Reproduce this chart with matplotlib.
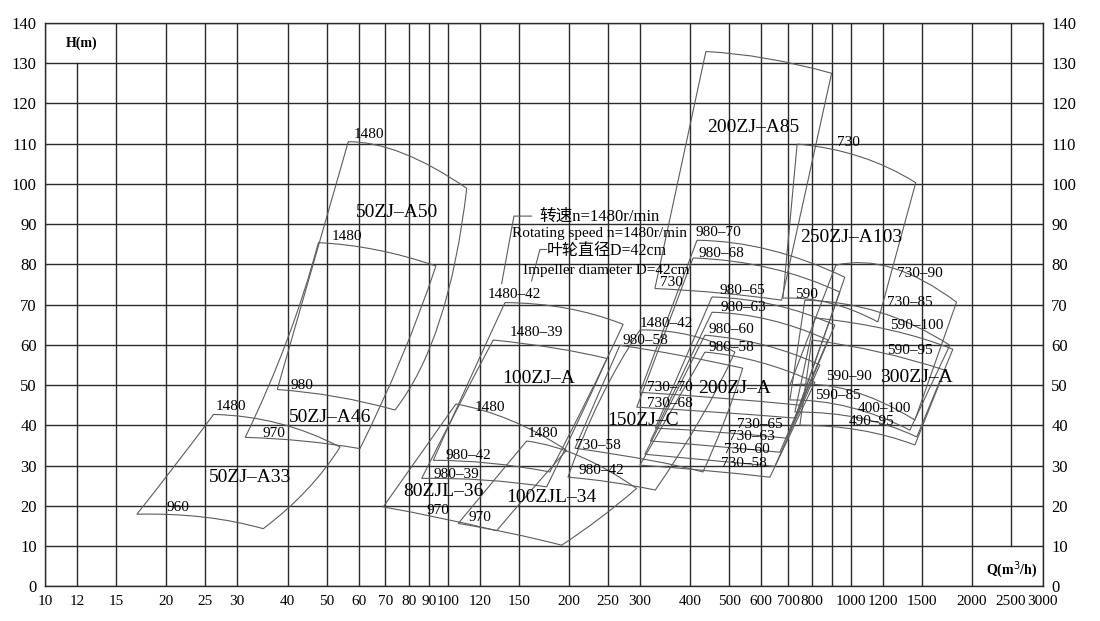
import numpy as np
import matplotlib.pyplot as plt
from matplotlib.path import Path
from matplotlib.patches import PathPatch
from matplotlib.ticker import NullLocator

plt.rcParams['font.family'] = ['Liberation Serif', 'Noto Sans CJK SC']

# axis grid
q_grid = [10, 12, 15, 20, 25, 30, 40, 50, 60, 70, 80, 90, 100, 120, 150, 200, 250, 300,
          400, 500, 600, 700, 800, 900, 1000, 1200, 1500, 2000, 2500, 3000]
q_ticks = [10, 12, 15, 20, 25, 30, 40, 50, 60, 70, 80, 90, 100, 120, 150, 200, 250, 300,
           400, 500, 600, 700, 800, 1000, 1200, 1500, 2000, 2500, 3000]
h_ticks = list(range(0, 150, 10))

# pump working ranges (Q m3/h, H m): edges top -> right -> bottom -> left,
# an edge is [start, middle, end] (curved) or [start, end]
a33 = [[(26.2, 42.7), (38.0, 40.5), (54.0, 34.6)],
       [(54.0, 34.6), (44.6, 23.9), (34.8, 14.3)],
       [(34.8, 14.3), (24.7, 17.2), (16.9, 17.9)],
       [(16.9, 17.9), (21.2, 30.5), (26.2, 42.7)]]
a46 = [[(47.7, 85.4), (66.6, 83.6), (93.4, 79.6)],
       [(93.4, 79.6), (76.9, 57.0), (60.5, 34.2)],
       [(60.5, 34.2), (43.8, 36.1), (31.4, 37.0)],
       [(31.4, 37.0), (39.9, 61.2), (47.7, 85.4)]]
a50 = [[(56.6, 110.5), (77.5, 107.6), (111.4, 98.9)],
       [(111.4, 98.9), (95.6, 66.2), (73.9, 43.8)],
       [(73.9, 43.8), (53.0, 47.1), (37.7, 48.9)],
       [(37.7, 48.9), (56.6, 110.5)]]
zjl36 = [[(104.7, 45.3), (143.6, 41.2), (197.1, 33.8)],
         [(197.1, 33.8), (159.9, 23.5), (132.2, 13.8)],
         [(132.2, 13.8), (95.6, 17.0), (69.1, 19.7)],
         [(69.1, 19.7), (104.7, 45.3)]]
zjl34 = [[(156.9, 36.1), (212.8, 32.3), (294.1, 24.3)],
         [(294.1, 24.3), (238.5, 16.9), (191.7, 10.2)],
         [(191.7, 10.2), (142.6, 13.2), (106.1, 15.6)],
         [(106.1, 15.6), (156.9, 36.1)]]
zj100_42 = [[(138.6, 70.5), (197.1, 69.1), (272.4, 65.1)],
            [(272.4, 65.1), (222.6, 46.8), (179.2, 28.4)],
            [(179.2, 28.4), (127.2, 30.6), (92.0, 31.3)],
            [(92.0, 31.3), (112.8, 51.0), (138.6, 70.5)]]
zj100_39 = [[(129.6, 61.2), (184.4, 59.2), (248.4, 56.6)],
            [(248.4, 56.6), (210.3, 40.8), (175.9, 24.7)],
            [(175.9, 24.7), (123.6, 26.4), (86.1, 26.8)],
            [(86.1, 26.8), (105.3, 44.0), (129.6, 61.2)]]
zjc_42 = [[(299.8, 63.7), (399.2, 62.4), (516.2, 58.2)],
          [(516.2, 58.2), (422.4, 41.3), (327.3, 23.9)],
          [(327.3, 23.9), (253.2, 25.9), (198.7, 27.1)],
          [(198.7, 27.1), (238.5, 46.3), (299.8, 63.7)]]
zjc_58 = [[(267.4, 59.9), (376.8, 57.4), (539.7, 54.2)],
          [(539.7, 54.2), (487.3, 41.3), (429.8, 28.4)],
          [(429.8, 28.4), (318.4, 31.3), (206.8, 34.3)],
          [(206.8, 34.3), (235.9, 47.5), (267.4, 59.9)]]
a85 = [[(437.1, 132.9), (618.4, 131.2), (896.9, 127.5)],
       [(896.9, 127.5), (674.0, 71.1)],
       [(674.0, 71.1), (473.6, 72.9), (326.6, 74.0)],
       [(326.6, 74.0), (437.1, 132.9)]]
a103 = [[(736.5, 109.9), (1054, 106.8), (1451, 100.3)],
        [(1451, 100.3), (1168, 65.7)],
        [(1168, 65.7), (888, 70.4), (678.9, 71.6)],
        [(678.9, 71.6), (736.5, 109.9)]]

# 200ZJ-A: 980 r/min top curve and 730 r/min bottom curve per impeller
zj200_top = {
    70: [(415.5, 86.0), (630.3, 83.6), (967.4, 76.8)],
    68: [(406.3, 81.6), (630.3, 79.1), (940, 73.1)],
    65: [(452.6, 71.9), (648.6, 69.9), (913.7, 64.9)],
    63: [(452.6, 68.1), (630.3, 66.2), (877.8, 61.2)],
    60: [(434.7, 62.4), (612.5, 59.9), (838.6, 55.0)],
    58: [(434.7, 58.2), (595.2, 55.7), (815.2, 50.7)],
}
zj200_bot = {
    70: [(299.8, 48.2), (473.6, 46.8), (748, 45.0)],
    68: [(294.5, 44.5), (460.5, 43.3), (727.1, 41.8)],
    65: [(327.3, 39.3), (473.6, 38.3), (694.4, 36.8)],
    63: [(318.4, 36.1), (460.5, 34.8), (667.3, 33.3)],
    60: [(308.4, 32.8), (447.4, 31.3), (648.6, 29.8)],
    58: [(299.8, 30.1), (434.7, 28.8), (630.3, 27.1)],
}
# 300ZJ-A: upper speed curve -> lower speed curve
zj300_top = [
    [(918.9, 79.8), (1275, 79.1), (1832, 70.6)],
    [(769.8, 71.1), (1182, 68.1), (1763, 59.9)],
    [(815.2, 66.7), (1252, 63.7), (1794, 58.9)],
    [(801.4, 61.2), (1182, 58.2), (1713, 53.7)],
]
zj300_bot = [
    [(706.6, 50.0), (995, 48.7), (1444, 41.3)],
    [(706.6, 46.3), (995, 44.5), (1403, 38.8)],
    [(727.1, 43.3), (1054, 41.8), (1460, 37.1)],
    [(748, 40.0), (1054, 38.8), (1444, 35.1)],
]

# leader lines of the note
lead1 = [(136.0, 75.2), (145.9, 92.0), (161.4, 92.0)]
lead2 = [(161.4, 75.9), (169.3, 83.7), (175.9, 83.7)]

small_labels = [
    ('1480', 29.0, 44.6), ('960', 21.4, 19.5), ('970', 36.9, 38.0), ('980', 43.5, 50.0),
    ('1480', 63.5, 112.2), ('1480', 56.3, 87.0),
    ('1480', 127.2, 44.4), ('980\u201342', 112.3, 32.6), ('980\u201339', 104.7, 27.8),
    ('970', 94.7, 18.9), ('1480', 172.5, 38.0), ('970', 120.1, 17.2),
    ('1480\u201342', 145.9, 72.4), ('1480\u201339', 166.1, 63.0),
    ('1480\u201342', 349.1, 65.2), ('980\u201358', 310.1, 61.0), ('730\u201358', 236.2, 35.1),
    ('980\u201342', 240.6, 28.7),
    ('980\u201370', 468.5, 87.8), ('980\u201368', 478.2, 82.8), ('980\u201365', 539.7, 73.6),
    ('980\u201363', 543.0, 69.4), ('980\u201360', 507.0, 63.7), ('980\u201358', 507.0, 59.4),
    ('730\u201370', 355.9, 49.5), ('730\u201368', 355.9, 45.5), ('730\u201365', 595.2, 40.3),
    ('730\u201363', 568.7, 37.1), ('730\u201360', 552.6, 33.9), ('730\u201358', 543.0, 30.6),
    ('730', 359.0, 75.6), ('730', 990, 110.2), ('590', 778.6, 72.4),
    ('730\u201390', 1485, 77.8), ('730\u201385', 1403, 70.4), ('590\u2013100', 1460, 64.7),
    ('590\u201395', 1403, 58.7), ('590\u201390', 990, 52.2), ('590\u201385', 929, 47.5),
    ('400\u2013100', 1216, 44.2), ('490\u201395', 1129, 40.9),
]
big_labels = [
    ('50ZJ\u2013A33', 32.2, 27.0), ('50ZJ\u2013A46', 51.0, 42.0), ('50ZJ\u2013A50', 74.9, 92.8),
    ('80ZJL\u201336', 97.4, 23.5), ('100ZJL\u201334', 181.0, 22.1), ('100ZJ\u2013A', 167.6, 51.7),
    ('150ZJ\u2013C', 305.5, 41.3), ('200ZJ\u2013A', 516.2, 49.2), ('200ZJ\u2013A85', 572.8, 114.1),
    ('250ZJ\u2013A103', 1005, 86.7), ('300ZJ\u2013A', 1460, 52.0),
]

fig = plt.figure(figsize=(11, 6.21), dpi=100)
ax = fig.add_axes([0.041, 0.056, 0.907, 0.907])
ax.set_xscale('log')
ax.set_xlim(10, 3000)
ax.set_ylim(0, 140)

gc = '#2b2b2b'
for q in q_grid:
    lo, hi = 0, 140
    if q == 12:
        hi = 130
    if q == 2500:
        lo = 10
    ax.plot([q, q], [lo, hi], color=gc, lw=1.0, zorder=1)
for h in h_ticks:
    ax.axhline(h, color=gc, lw=1.0, zorder=1)

lc = '#5c5c5c'
lw = 0.8


def ctrl(p0, m, p2):
    # quadratic bezier control point (log Q) so the edge passes through m
    lq = 2 * np.log10(m[0]) - (np.log10(p0[0]) + np.log10(p2[0])) / 2
    return (10 ** lq, 2 * m[1] - (p0[1] + p2[1]) / 2)


def draw(edges):
    verts = [edges[0][0]]
    codes = [Path.MOVETO]
    for e in edges:
        if len(e) == 3:
            verts += [ctrl(*e), e[2]]
            codes += [Path.CURVE3, Path.CURVE3]
        else:
            verts += list(e[1:])
            codes += [Path.LINETO] * (len(e) - 1)
    ax.add_patch(PathPatch(Path(verts, codes), fill=False, edgecolor=lc, lw=lw, zorder=2))


for shape in [a33, a46, a50, zjl36, zjl34, zj100_42, zj100_39, zjc_42, zjc_58, a85, a103]:
    draw(shape)

for d in zj200_top:
    t = zj200_top[d]
    b = zj200_bot[d]
    draw([t, [t[2], b[2]], b[::-1], [b[0], t[0]]])
for t, b in zip(zj300_top, zj300_bot):
    draw([t, [t[2], b[2]], b[::-1], [b[0], t[0]]])

for lead in [lead1, lead2]:
    ax.plot([p[0] for p in lead], [p[1] for p in lead], color=lc, lw=lw, zorder=2)

for s, q, h in small_labels:
    ax.text(q, h, s, fontsize=11, ha='center', va='center', zorder=3)
for s, q, h in big_labels:
    ax.text(q, h, s, fontsize=14, ha='center', va='center', zorder=3)

ax.text(168.6, 91.8, '转速n=1480r/min', fontsize=12, ha='left', va='center')
ax.text(144.7, 87.7, 'Rotating speed n=1480r/min', fontsize=11, ha='left', va='center')
ax.text(176.5, 83.3, '叶轮直径D=42cm', fontsize=11.5, ha='left', va='center')
ax.text(153.9, 78.6, 'Impeller diameter D=42cm', fontsize=11, ha='left', va='center')

ax.text(12.3, 135.0, 'H(m)', fontsize=10, fontweight='bold', ha='center', va='center')
ax.text(2512, 4.2, 'Q(m$^3$/h)', fontsize=10, fontweight='bold', ha='center', va='center')

ax.set_xticks(q_ticks)
ax.set_xticklabels([str(q) for q in q_ticks])
ax.xaxis.set_minor_locator(NullLocator())
ax.set_yticks(h_ticks)
ax.tick_params(axis='both', length=0)
ax.tick_params(axis='y', labelright=True, pad=6, labelsize=12)
ax.tick_params(axis='x', pad=6, labelsize=11)
for sp in ax.spines.values():
    sp.set_color(gc)
    sp.set_linewidth(1.0)

fig.savefig('out.png', dpi=100)
